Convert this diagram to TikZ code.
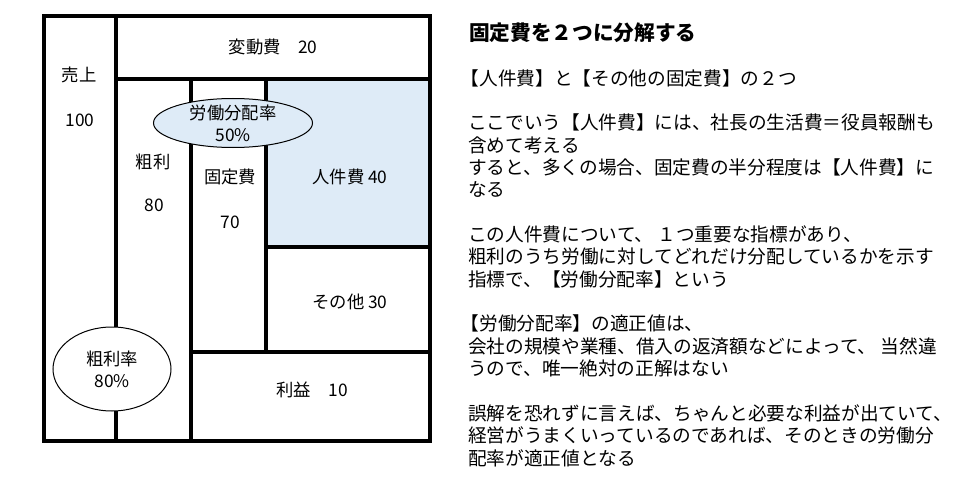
\documentclass[tikz,border=0pt]{standalone}
\usepackage{fontspec}
\setmainfont{Noto Sans CJK JP}
\usetikzlibrary{shapes.geometric}
\definecolor{paleblue}{RGB}{222,235,247}
\begin{document}
\begin{tikzpicture}[x=0.75pt,y=-0.75pt,
  wall/.style={line width=3pt, line cap=rect},
  lbl/.style={font=\fontsize{13}{16.5}\selectfont, inner sep=0pt, align=center},
  body/.style={font=\fontsize{14}{16.8}\selectfont, inner sep=0pt, anchor=west},
  head/.style={font=\fontsize{15.5}{18}\selectfont\bfseries, inner sep=0pt, anchor=west},
  oval/.style={ellipse, draw=black, line width=0.75pt, inner sep=0pt}]
\useasboundingbox[fill=white] (0,0) rectangle (960,485);
% grid coordinates
\coordinate (tl) at (44,16);
\coordinate (br) at (430,441);
\coordinate (v1t) at (116,16);  \coordinate (v1b) at (116,441);
\coordinate (h1l) at (116,79);  \coordinate (h1r) at (430,79);
\coordinate (v2t) at (191,79);  \coordinate (v2b) at (191,441);
\coordinate (v3t) at (266,79);  \coordinate (v3b) at (266,352);
\coordinate (h2l) at (266,247); \coordinate (h2r) at (430,247);
\coordinate (h3l) at (191,352); \coordinate (h3r) at (430,352);
% blue area
\fill[paleblue] (v3t) rectangle (h2r);
% walls
\draw[wall] (tl) rectangle (br);
\draw[wall] (v1t) -- (v1b);
\draw[wall] (h1l) -- (h1r);
\draw[wall] (v2t) -- (v2b);
\draw[wall] (v3t) -- (v3b);
\draw[wall] (h2l) -- (h2r);
\draw[wall] (h3l) -- (h3r);
% labels
\node[lbl] (hendo) at (273,47) {変動費　20};
\node[lbl] (uri) at (79,75) {売上};
\node[lbl] (uriv) at (80,120) {100};
\node[lbl] (arari) at (153,162) {粗利};
\node[lbl] (arariv) at (154,205) {80};
\node[lbl] (kotei) at (230,177) {固定費};
\node[lbl] (koteiv) at (230,222) {70};
\node[lbl] (jinken) at (350,177) {人件費 40};
\node[lbl] (sonota) at (350,302) {その他 30};
\node[lbl] (rieki) at (312,390) {利益　10};
% ovals
\node[oval, fill=paleblue, minimum width=119.25pt, minimum height=36.75pt] (rodo) at (233,123) {};
\node[lbl] (rodot) at (rodo.center) {労働分配率\\50\%};
\node[oval, fill=white, minimum width=88.5pt, minimum height=63pt] (ararir) at (112,369) {};
\node[lbl] (ararirt) at (ararir.center) {粗利率\\80\%};
% right text
\node[head] (title) at (469,33) {固定費を２つに分解する};
\node[body] (t1) at (468,78) {\hspace{-0.4em}【人件費】と【その他の固定費】の２つ};
\node[body] (t3) at (468,122.7) {ここでいう【人件費】には、社長の生活費＝役員報酬も};
\node[body] (t4) at (468,145) {含めて考える};
\node[body] (t5) at (468,167.4) {すると、多くの場合、固定費の半分程度は【人件費】に};
\node[body] (t6) at (468,189.8) {なる};
\node[body] (t8) at (468,234.5) {この人件費について、 １つ重要な指標があり、};
\node[body] (t9) at (468,256.8) {粗利のうち労働に対してどれだけ分配しているかを示す};
\node[body] (t10) at (468,279) {指標で、【労働分配率】という};
\node[body] (t12) at (468,323.9) {\hspace{-0.4em}【労働分配率】の適正値は、};
\node[body] (t13) at (468,346.2) {会社の規模や業種、借入の返済額などによって、 当然違};
\node[body] (t14) at (468,368.5) {うので、唯一絶対の正解はない};
\node[body] (t16) at (468,413.3) {誤解を恐れずに言えば、ちゃんと必要な利益が出ていて、};
\node[body] (t17) at (468,435.6) {経営がうまくいっているのであれば、そのときの労働分};
\node[body] (t18) at (468,458) {配率が適正値となる};
\end{tikzpicture}
\end{document}
